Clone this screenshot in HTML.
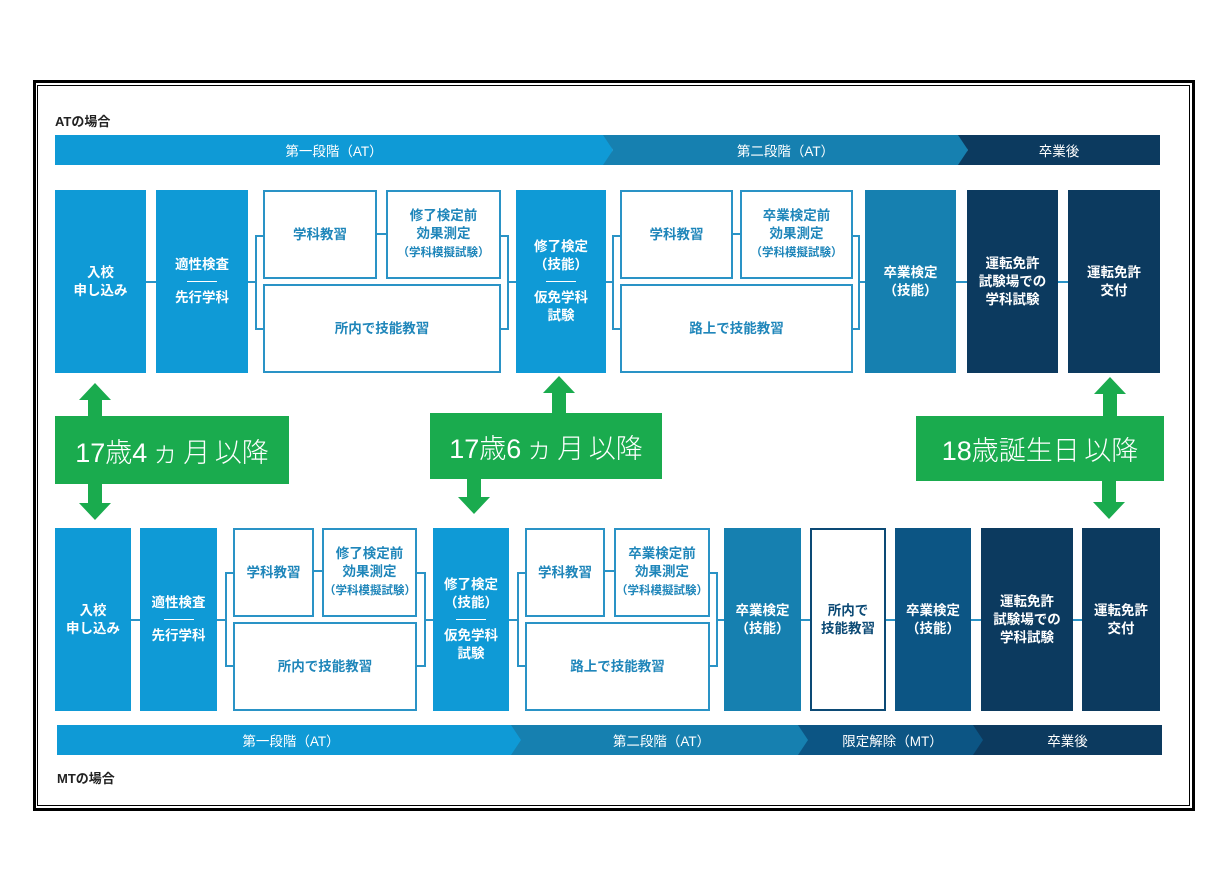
<!DOCTYPE html>
<html><head><meta charset="utf-8">
<style>
*{margin:0;padding:0;box-sizing:border-box}
body{width:1228px;height:893px;background:#fff;position:relative;overflow:hidden;font-family:"Liberation Sans","Noto Sans CJK JP",sans-serif}
.a{position:absolute}
.b{position:absolute;display:flex;align-items:center;justify-content:center;text-align:center;color:#fff;font-weight:bold;font-size:13.5px;line-height:18px}
.w{background:#fff;border:2px solid #2a93c6;color:#1f86ba}
.L{background:#0f9ad6}.M{background:#1680b0}.D{background:#0c5584}.N{background:#0c3a5f}
.bar{position:absolute;height:30px;display:flex;align-items:center;justify-content:center;color:#fff;font-size:13.5px}
.sm{font-size:11.5px}
.dash{display:block;width:30px;height:1px;background:#fff;margin:7px auto}
.g{position:absolute;background:#1aab4e;color:#fff;font-size:27px;display:flex;align-items:center;justify-content:center;font-family:"Liberation Sans","Noto Sans CJK JP",sans-serif;font-weight:300;white-space:nowrap;word-spacing:-3px}
.ttl{position:absolute;font-size:13px;font-weight:bold;color:#222}
</style></head><body>
<div class="a" style="left:33px;top:80px;width:1162px;height:731px;border:3px solid #000"></div>
<div class="a" style="left:37px;top:85px;width:1153px;height:721px;border:1px solid #000"></div>

<svg class="a" style="left:0;top:0" width="1228" height="893">
<g stroke="#2a93c6" stroke-width="2" fill="none">
<line x1="146" y1="282" x2="156" y2="282"/>
<line x1="248" y1="282" x2="256" y2="282"/>
<polyline points="263,236 256,236 256,329 263,329"/>
<line x1="377" y1="234" x2="386" y2="234"/>
<polyline points="501,236 508,236 508,329 501,329"/>
<line x1="508" y1="282" x2="516" y2="282"/>
<line x1="606" y1="282" x2="613" y2="282"/>
<polyline points="620,236 613,236 613,329 620,329"/>
<line x1="733" y1="234" x2="740" y2="234"/>
<polyline points="853,236 859,236 859,329 853,329"/>
<line x1="859" y1="282" x2="865" y2="282"/>
<line x1="956" y1="282" x2="967" y2="282"/>
<line x1="1058" y1="282" x2="1068" y2="282"/>

<line x1="131" y1="620" x2="140" y2="620"/>
<line x1="217" y1="620" x2="226" y2="620"/>
<polyline points="233,573 226,573 226,666 233,666"/>
<line x1="314" y1="571" x2="322" y2="571"/>
<polyline points="417,573 425,573 425,666 417,666"/>
<line x1="425" y1="620" x2="433" y2="620"/>
<line x1="509" y1="620" x2="518" y2="620"/>
<polyline points="525,573 518,573 518,666 525,666"/>
<line x1="605" y1="571" x2="614" y2="571"/>
<polyline points="710,573 717,573 717,666 710,666"/>
<line x1="717" y1="620" x2="724" y2="620"/>
<line x1="801" y1="620" x2="810" y2="620"/>
<line x1="886" y1="620" x2="895" y2="620"/>
<line x1="971" y1="620" x2="981" y2="620"/>
<line x1="1073" y1="620" x2="1082" y2="620"/>
</g>
<g fill="#1aab4e">
<polygon points="95,383 111,400 102,400 102,416 88,416 88,400 79,400"/>
<polygon points="95,520 111,503 102,503 102,484 88,484 88,503 79,503"/>
<polygon points="559,376 575,393 566,393 566,413 552,413 552,393 543,393"/>
<polygon points="474,514 490,497 481,497 481,479 467,479 467,497 458,497"/>
<polygon points="1110,377 1126,394 1117,394 1117,416 1103,416 1103,394 1094,394"/>
<polygon points="1109,519 1125,502 1116,502 1116,481 1102,481 1102,502 1093,502"/>
</g>
</svg>

<div class="ttl" style="left:55px;top:111px">ATの場合</div>
<div class="bar" style="left:55px;top:135px;width:558px;background:#0f9ad6;clip-path:polygon(0 0,550px 0,100% 50%,550px 100%,0 100%)">第一段階（AT）</div>
<div class="bar" style="left:603px;top:135px;width:365px;background:#1680b0;clip-path:polygon(0 0,357px 0,100% 50%,357px 100%,0 100%,10px 50%)">第二段階（AT）</div>
<div class="bar" style="left:958px;top:135px;width:202px;background:#0c3a5f;clip-path:polygon(0 0,100% 0,100% 100%,0 100%,10px 50%)">卒業後</div>

<div class="b L" style="left:55px;top:190px;width:91px;height:183px">入校<br>申し込み</div>
<div class="b L" style="left:156px;top:190px;width:92px;height:183px"><div>適性検査<span class="dash"></span>先行学科</div></div>
<div class="b w" style="left:263px;top:190px;width:114px;height:89px">学科教習</div>
<div class="b w" style="left:386px;top:190px;width:115px;height:89px"><div>修了検定前<br>効果測定<br><span class="sm">（学科模擬試験）</span></div></div>
<div class="b w" style="left:263px;top:284px;width:238px;height:89px">所内で技能教習</div>
<div class="b L" style="left:516px;top:190px;width:90px;height:183px"><div>修了検定<br>（技能）<span class="dash"></span>仮免学科<br>試験</div></div>
<div class="b w" style="left:620px;top:190px;width:113px;height:89px">学科教習</div>
<div class="b w" style="left:740px;top:190px;width:113px;height:89px"><div>卒業検定前<br>効果測定<br><span class="sm">（学科模擬試験）</span></div></div>
<div class="b w" style="left:620px;top:284px;width:233px;height:89px">路上で技能教習</div>
<div class="b M" style="left:865px;top:190px;width:91px;height:183px">卒業検定<br>（技能）</div>
<div class="b N" style="left:967px;top:190px;width:91px;height:183px">運転免許<br>試験場での<br>学科試験</div>
<div class="b N" style="left:1068px;top:190px;width:92px;height:183px">運転免許<br>交付</div>

<div class="g" style="left:55px;top:416px;width:234px;height:68px">17歳4 ヵ 月 以降</div>
<div class="g" style="left:430px;top:413px;width:232px;height:66px">17歳6 ヵ 月 以降</div>
<div class="g" style="left:916px;top:416px;width:248px;height:65px">18歳誕生日 以降</div>

<div class="b L" style="left:55px;top:528px;width:76px;height:183px">入校<br>申し込み</div>
<div class="b L" style="left:140px;top:528px;width:77px;height:183px"><div>適性検査<span class="dash"></span>先行学科</div></div>
<div class="b w" style="left:233px;top:528px;width:81px;height:89px">学科教習</div>
<div class="b w" style="left:322px;top:528px;width:95px;height:89px"><div>修了検定前<br>効果測定<br><span class="sm">（学科模擬試験）</span></div></div>
<div class="b w" style="left:233px;top:622px;width:184px;height:89px">所内で技能教習</div>
<div class="b L" style="left:433px;top:528px;width:76px;height:183px"><div>修了検定<br>（技能）<span class="dash"></span>仮免学科<br>試験</div></div>
<div class="b w" style="left:525px;top:528px;width:80px;height:89px">学科教習</div>
<div class="b w" style="left:614px;top:528px;width:96px;height:89px"><div>卒業検定前<br>効果測定<br><span class="sm">（学科模擬試験）</span></div></div>
<div class="b w" style="left:525px;top:622px;width:185px;height:89px">路上で技能教習</div>
<div class="b M" style="left:724px;top:528px;width:77px;height:183px">卒業検定<br>（技能）</div>
<div class="b w" style="left:810px;top:528px;width:76px;height:183px;border-color:#0c4a75;color:#0c4a75">所内で<br>技能教習</div>
<div class="b D" style="left:895px;top:528px;width:76px;height:183px">卒業検定<br>（技能）</div>
<div class="b N" style="left:981px;top:528px;width:92px;height:183px">運転免許<br>試験場での<br>学科試験</div>
<div class="b N" style="left:1082px;top:528px;width:78px;height:183px">運転免許<br>交付</div>

<div class="bar" style="left:57px;top:725px;width:468px;background:#0f9ad6;clip-path:polygon(0 0,458px 0,100% 50%,458px 100%,0 100%)">第一段階（AT）</div>
<div class="bar" style="left:511px;top:725px;width:301px;background:#1680b0;clip-path:polygon(0 0,291px 0,100% 50%,291px 100%,0 100%,10px 50%)">第二段階（AT）</div>
<div class="bar" style="left:798px;top:725px;width:189px;background:#0c5584;clip-path:polygon(0 0,179px 0,100% 50%,179px 100%,0 100%,10px 50%)">限定解除（MT）</div>
<div class="bar" style="left:973px;top:725px;width:189px;background:#0c3a5f;clip-path:polygon(0 0,100% 0,100% 100%,0 100%,10px 50%)">卒業後</div>
<div class="ttl" style="left:57px;top:768px">MTの場合</div>
</body></html>
